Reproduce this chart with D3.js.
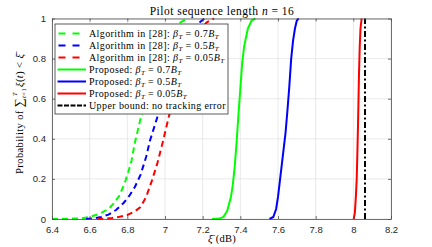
<!DOCTYPE html>
<html>
<head>
<meta charset="utf-8">
<script src="https://cdn.jsdelivr.net/npm/d3@7"></script>
<style>
  body { margin: 0; background: #fff; }
  .tick text { font-family: "Liberation Sans", Arial, sans-serif; font-size: 9.5px; fill: #262626; }
  .serif { font-family: "Liberation Serif", "DejaVu Serif", serif; fill: #000; }
</style>
</head>
<body>
<div id="wrapper"></div>
<script>
// data (x in dB, y = probability)
const algo07X = [6.40, 6.55, 6.60, 6.65, 6.70, 6.73, 6.76, 6.79, 6.82, 6.84, 6.87, 6.90, 6.93, 6.97, 7.01, 7.05, 7.08, 7.12];
const algo07Y = [0, 0.003, 0.01, 0.025, 0.05, 0.08, 0.12, 0.19, 0.28, 0.38, 0.50, 0.60, 0.70, 0.80, 0.89, 0.95, 0.98, 1.0];
const algo05X = [6.58, 6.62, 6.66, 6.70, 6.74, 6.78, 6.81, 6.84, 6.87, 6.90, 6.92, 6.96, 7.00, 7.04, 7.08, 7.12, 7.17, 7.21];
const algo05Y = [0, 0.003, 0.01, 0.022, 0.045, 0.08, 0.115, 0.16, 0.22, 0.31, 0.39, 0.51, 0.62, 0.73, 0.83, 0.91, 0.97, 1.0];
const algo005X = [6.64, 6.68, 6.72, 6.76, 6.80, 6.84, 6.87, 6.90, 6.93, 6.96, 6.99, 7.02, 7.06, 7.10, 7.14, 7.18, 7.22, 7.26];
const algo005Y = [0, 0.002, 0.005, 0.011, 0.02, 0.038, 0.06, 0.11, 0.19, 0.28, 0.39, 0.51, 0.64, 0.76, 0.86, 0.93, 0.98, 1.0];
const prop07X = [7.25, 7.29, 7.31, 7.33, 7.35, 7.36, 7.37, 7.38, 7.39, 7.40, 7.41, 7.42, 7.44, 7.46, 7.48];
const prop07Y = [0, 0.002, 0.01, 0.04, 0.11, 0.17, 0.26, 0.38, 0.52, 0.65, 0.78, 0.86, 0.95, 0.99, 1.0];
const prop05X = [7.555, 7.575, 7.59, 7.60, 7.61, 7.62, 7.63, 7.64, 7.65, 7.66, 7.67, 7.68, 7.69, 7.70, 7.71];
const prop05Y = [0, 0.01, 0.05, 0.11, 0.19, 0.27, 0.35, 0.43, 0.54, 0.66, 0.80, 0.89, 0.95, 0.99, 1.0];
const prop005X = [8.002, 8.008, 8.014, 8.018, 8.022, 8.026, 8.030, 8.034, 8.038, 8.044];
const prop005Y = [0, 0.03, 0.12, 0.2, 0.35, 0.52, 0.72, 0.86, 0.95, 1.0];
const boundX = [8.062, 8.062];
const boundY = [0, 1];

const xTicks = [6.4, 6.6, 6.8, 7, 7.2, 7.4, 7.6, 7.8, 8, 8.2];
const yTicks = [0, 0.2, 0.4, 0.6, 0.8, 1];

const series = [
  { xs: algo07X, ys: algo07Y, color: "#00ff00", dash: "6,4", label: ["Algorithm in [28]: ", "0.7"] },
  { xs: algo05X, ys: algo05Y, color: "#0000ff", dash: "6,4", label: ["Algorithm in [28]: ", "0.5"] },
  { xs: algo005X, ys: algo005Y, color: "#ff0000", dash: "6,4", label: ["Algorithm in [28]: ", "0.05"] },
  { xs: prop07X, ys: prop07Y, color: "#00ff00", dash: null, label: ["Proposed: ", "0.7"] },
  { xs: prop05X, ys: prop05Y, color: "#0000ff", dash: null, label: ["Proposed: ", "0.5"] },
  { xs: prop005X, ys: prop005Y, color: "#ff0000", dash: null, label: ["Proposed: ", "0.05"] },
  { xs: boundX, ys: boundY, color: "#000000", dash: "6,2.5,2,2.5", label: null }
];

const dimensions = {
  width: 432,
  height: 247,
  margin: { top: 18.5, right: 41, bottom: 28, left: 52 }
};
dimensions.boundedWidth = dimensions.width - dimensions.margin.left - dimensions.margin.right;
dimensions.boundedHeight = dimensions.height - dimensions.margin.top - dimensions.margin.bottom;

const svg = d3.select("#wrapper").append("svg")
  .attr("width", dimensions.width)
  .attr("height", dimensions.height);

const bounds = svg.append("g")
  .attr("transform", `translate(${dimensions.margin.left},${dimensions.margin.top})`);

const xScale = d3.scaleLinear().domain([6.4, 8.2]).range([0, dimensions.boundedWidth]);
const yScale = d3.scaleLinear().domain([0, 1]).range([dimensions.boundedHeight, 0]);

// grid
bounds.append("g").selectAll("line").data(xTicks).join("line")
  .attr("x1", d => xScale(d)).attr("x2", d => xScale(d))
  .attr("y1", 0).attr("y2", dimensions.boundedHeight)
  .attr("stroke", "#e3e3e3").attr("stroke-width", 0.8);
bounds.append("g").selectAll("line").data(yTicks).join("line")
  .attr("y1", d => yScale(d)).attr("y2", d => yScale(d))
  .attr("x1", 0).attr("x2", dimensions.boundedWidth)
  .attr("stroke", "#e3e3e3").attr("stroke-width", 0.8);

// lines
const lineGen = d3.line().x(d => xScale(d[0])).y(d => yScale(d[1]));
series.forEach(s => {
  bounds.append("path")
    .datum(d3.zip(s.xs, s.ys))
    .attr("d", lineGen)
    .attr("fill", "none")
    .attr("stroke", s.color)
    .attr("stroke-width", 2)
    .attr("stroke-dasharray", s.dash);
});

// axes (box with inward ticks on all sides)
const fmt = d => String(d);
bounds.append("g")
  .attr("transform", `translate(0,${dimensions.boundedHeight})`)
  .call(d3.axisBottom(xScale).tickValues(xTicks).tickFormat(fmt).tickSizeInner(-3).tickSizeOuter(0).tickPadding(7));
bounds.append("g")
  .call(d3.axisLeft(yScale).tickValues(yTicks).tickFormat(fmt).tickSizeInner(-3).tickSizeOuter(0).tickPadding(6));
bounds.append("g")
  .call(d3.axisTop(xScale).tickValues(xTicks).tickFormat("").tickSizeInner(-3).tickSizeOuter(0));
bounds.append("g")
  .attr("transform", `translate(${dimensions.boundedWidth},0)`)
  .call(d3.axisRight(yScale).tickValues(yTicks).tickFormat("").tickSizeInner(-3).tickSizeOuter(0));
bounds.selectAll(".domain, .tick line").attr("stroke", "#4d4d4d").attr("stroke-width", 0.8);

// title
svg.append("text").attr("class", "serif")
  .attr("x", 222).attr("y", 14.5)
  .attr("text-anchor", "middle")
  .attr("font-size", 11.5)
  .attr("letter-spacing", 0.5)
  .call(t => {
    t.append("tspan").text("Pilot sequence length ");
    t.append("tspan").attr("font-style", "italic").text("n");
    t.append("tspan").text(" = 16");
  });

// x label
svg.append("text").attr("class", "serif")
  .attr("x", 222).attr("y", 242)
  .attr("text-anchor", "middle")
  .attr("font-size", 10.5)
  .attr("letter-spacing", 0.3)
  .call(t => {
    t.append("tspan").attr("font-style", "italic").text("ξ\u0304");
    t.append("tspan").text(" (dB)");
  });

// y label
svg.append("text").attr("class", "serif")
  .attr("transform", `translate(23,${dimensions.margin.top + dimensions.boundedHeight / 2 - 5}) rotate(-90)`)
  .attr("text-anchor", "middle")
  .attr("font-size", 10.5)
  .attr("letter-spacing", 0.4)
  .call(t => {
    t.append("tspan").text("Probability of ");
    t.append("tspan").attr("font-size", 12.5).text("∑");
    t.append("tspan").attr("font-size", 6.5).attr("dy", 3).attr("font-style", "italic").text("t");
    t.append("tspan").attr("font-size", 6.5).text("=1");
    t.append("tspan").attr("font-size", 6.5).attr("dx", -8).attr("dy", -9).attr("font-style", "italic").text("T");
    t.append("tspan").attr("dy", 6).attr("dx", 5).attr("font-style", "italic").text("ξ");
    t.append("tspan").text("(");
    t.append("tspan").attr("font-style", "italic").text("t");
    t.append("tspan").text(") < ");
    t.append("tspan").attr("font-style", "italic").text("ξ\u0304");
  });

// legend
const legend = svg.append("g").attr("transform", "translate(55,24)");
legend.append("rect")
  .attr("width", 173).attr("height", 90)
  .attr("fill", "#fff").attr("stroke", "#333").attr("stroke-width", 0.8);
const rowH = 12;
series.forEach((s, i) => {
  const y = 9.5 + i * rowH;
  legend.append("line")
    .attr("x1", 2.5).attr("x2", 31).attr("y1", y).attr("y2", y)
    .attr("stroke", s.color).attr("stroke-width", 2)
    .attr("stroke-dasharray", s.dash ? (i === 6 ? "5,1.5" : "7,7") : null)
    .attr("stroke-dashoffset", s.dash && i !== 6 ? -1 : 0);
  const txt = legend.append("text").attr("class", "serif")
    .attr("x", 34).attr("y", y + 3.5).attr("font-size", 10)
    .attr("letter-spacing", 0.4);
  if (s.label) {
    txt.append("tspan").text(s.label[0]);
    txt.append("tspan").attr("font-style", "italic").text("β");
    txt.append("tspan").attr("font-style", "italic").attr("font-size", 7).attr("dy", 2).text("T");
    txt.append("tspan").attr("dy", -2).text(" = " + s.label[1]);
    txt.append("tspan").attr("font-style", "italic").text("B");
    txt.append("tspan").attr("font-style", "italic").attr("font-size", 7).attr("dy", 2).text("T");
  } else {
    txt.text("Upper bound: no tracking error");
  }
});
</script>
</body>
</html>
